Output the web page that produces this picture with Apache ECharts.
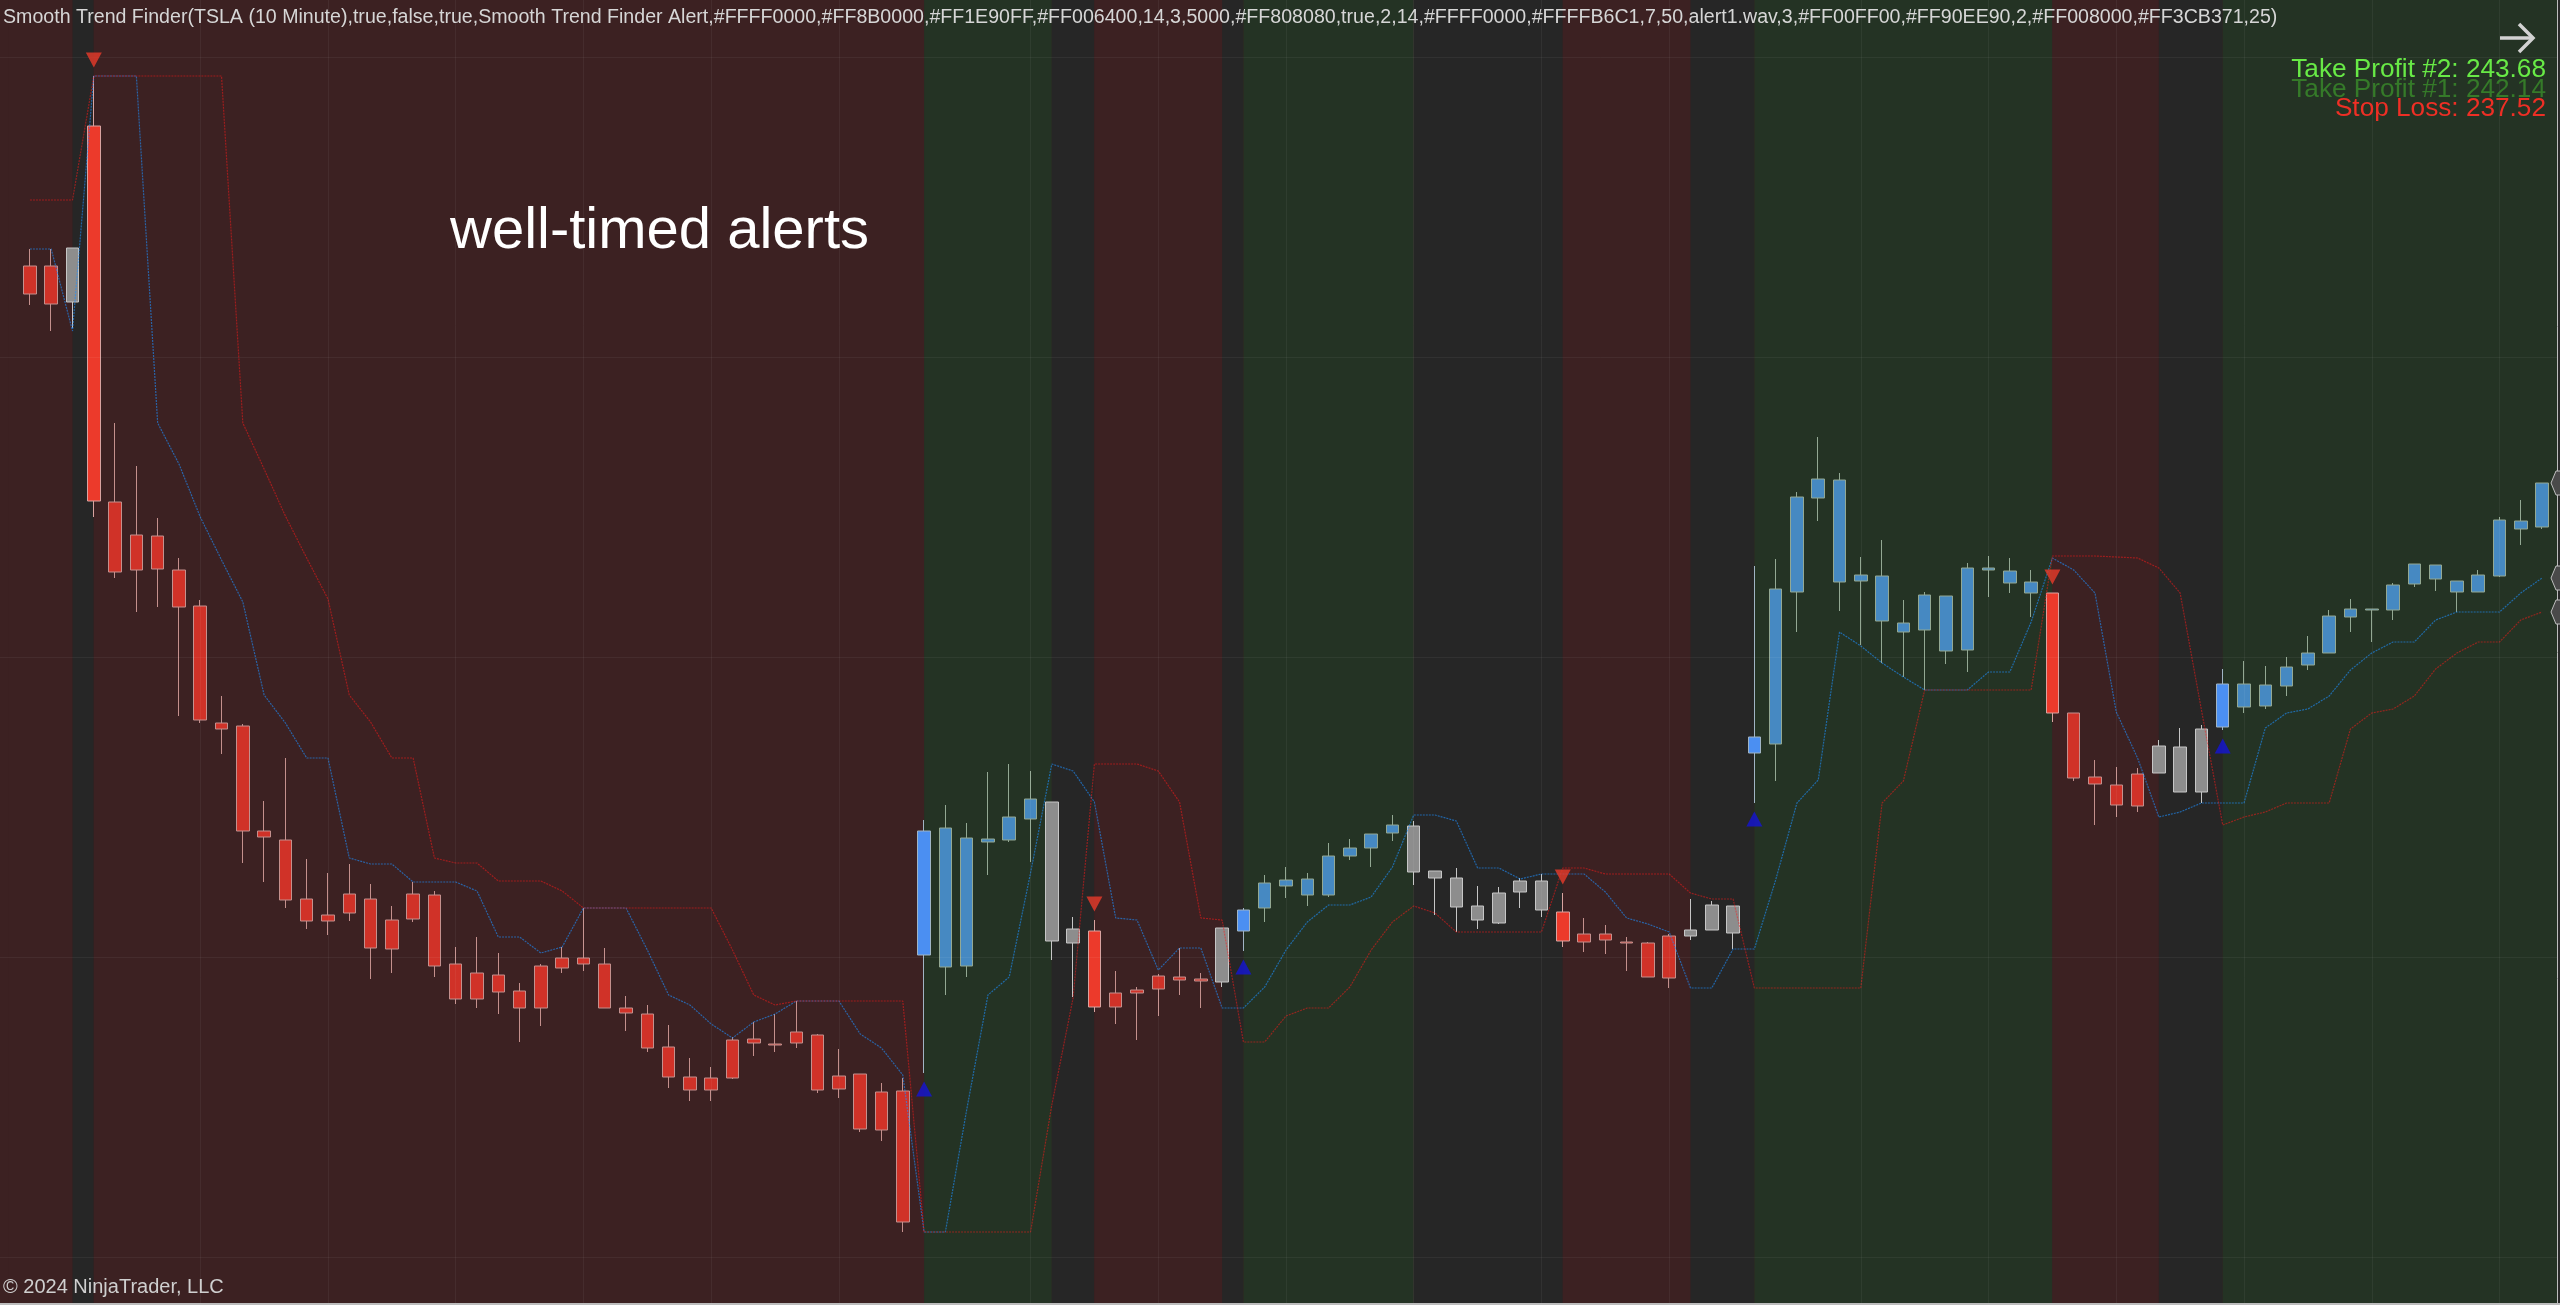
<!DOCTYPE html>
<html><head><meta charset="utf-8">
<script src="https://cdn.jsdelivr.net/npm/echarts@6/dist/echarts.min.js"></script>
<style>html,body{margin:0;padding:0;background:#3c2122;overflow:hidden}#c{width:2560px;height:1305px}</style>
</head><body><div id="c"></div><script>
// ---- data (TSLA 10 minute) ----
const opens = [247.91,247.91,247.55,249.31,245.55,245.22,245.21,244.87,244.51,243.34,
243.31,242.26,242.17,241.58,241.42,241.63,241.58,241.37,241.63,241.62,
240.93,240.84,240.82,240.66,240.91,240.99,240.99,240.93,240.49,240.43,
240.10,239.80,239.79,239.79,240.18,240.13,240.14,240.22,239.81,239.83,
239.27,239.66,241.02,242.29,240.91,242.15,242.17,242.38,242.55,241.14,
241.26,240.50,240.64,240.68,240.80,240.78,240.75,241.26,241.49,241.71,
241.78,241.62,242.01,242.09,242.24,242.31,241.86,241.79,241.51,241.34,
241.65,241.76,241.45,241.23,241.23,241.15,241.14,240.79,241.21,241.27,
241.51,243.04,243.13,244.65,245.59,245.77,244.76,244.81,244.34,244.27,
244.61,244.07,244.89,244.86,244.75,244.64,243.44,242.80,242.72,242.51,
242.84,243.10,242.65,243.30,243.73,243.51,243.71,243.92,244.04,244.40,
244.48,244.47,244.73,244.92,244.76,244.65,244.81,245.36,245.30];
const closes = [247.63,247.53,248.09,245.56,244.85,244.87,244.88,244.50,243.37,243.28,
242.26,242.20,241.57,241.36,241.36,241.44,241.09,241.08,241.38,240.91,
240.58,240.58,240.65,240.49,240.49,240.89,240.93,240.49,240.44,240.09,
239.80,239.67,239.67,240.17,240.14,240.12,240.25,239.67,239.68,239.28,
239.65,238.35,242.26,240.90,242.19,242.18,242.40,242.58,241.16,241.28,
240.50,240.64,240.67,240.81,240.77,240.76,241.29,241.47,241.74,241.77,
241.62,242.01,242.09,242.23,242.32,241.85,241.79,241.50,241.37,241.64,
241.76,241.47,241.16,241.15,241.17,241.14,240.80,241.21,241.27,241.52,
241.24,243.20,244.68,245.60,245.78,244.75,244.82,244.36,244.25,244.62,
244.06,244.89,244.87,244.74,244.64,243.44,242.79,242.73,242.52,242.83,
243.11,242.65,243.28,243.73,243.50,243.72,243.90,244.04,244.41,244.48,
244.47,244.72,244.93,244.78,244.65,244.82,245.37,245.28,245.74];
const lows = [247.52,247.26,247.29,245.40,244.79,244.45,244.50,243.41,243.34,243.03,
241.94,241.75,241.49,241.28,241.22,241.36,240.78,240.84,241.35,240.80,
240.53,240.49,240.43,240.15,240.31,240.84,240.86,240.49,240.26,240.05,
239.69,239.56,239.56,239.78,240.01,240.05,240.09,239.64,239.59,239.25,
239.16,238.25,239.84,240.62,240.80,241.82,242.15,241.95,240.97,240.60,
240.45,240.33,240.17,240.41,240.62,240.49,240.70,241.06,241.35,241.59,
241.51,241.60,241.97,241.90,242.16,241.72,241.42,241.25,241.28,241.33,
241.49,241.40,241.10,241.05,241.03,240.86,240.80,240.69,241.17,241.27,
241.08,242.54,242.76,244.25,245.36,244.46,244.12,243.94,243.80,243.67,
243.93,243.85,244.60,244.64,244.40,243.35,242.76,242.32,242.40,242.45,
242.84,242.65,242.54,243.27,243.44,243.48,243.61,243.87,244.04,244.25,
244.15,244.37,244.70,244.66,244.45,244.65,244.80,245.12,245.28];
const highs = [248.08,248.08,248.09,249.81,246.34,245.91,245.39,244.99,244.57,243.61,
243.33,242.56,242.99,241.98,241.84,241.93,241.73,241.51,241.75,241.66,
241.10,241.20,241.04,240.74,240.93,241.10,241.49,241.09,240.61,240.52,
240.32,239.99,239.90,240.20,240.35,240.43,240.56,240.23,240.08,239.83,
239.74,239.79,242.37,242.52,242.34,242.85,242.93,242.86,242.55,241.40,
241.37,240.86,240.70,240.83,241.09,240.84,241.29,241.49,241.82,241.90,
241.84,242.14,242.18,242.23,242.42,242.36,241.86,241.89,241.71,241.70,
241.79,241.83,241.64,241.39,241.32,241.20,241.15,241.23,241.58,241.56,
241.51,244.91,244.98,245.65,246.20,245.84,245.00,245.17,244.57,244.65,
244.61,244.94,245.01,244.99,244.87,244.64,243.44,242.97,242.90,242.89,
243.17,243.29,243.32,243.88,243.96,243.91,244.00,244.21,244.47,244.58,
244.48,244.74,244.93,244.92,244.76,244.87,245.40,245.57,245.74];
// trend state per bar: -1 down (red), 1 up (blue), 0 neutral (gray)
const trend = [-1,-1,0,-1,-1,-1,-1,-1,-1,-1,
-1,-1,-1,-1,-1,-1,-1,-1,-1,-1,
-1,-1,-1,-1,-1,-1,-1,-1,-1,-1,
-1,-1,-1,-1,-1,-1,-1,-1,-1,-1,
-1,-1,1,1,1,1,1,1,0,0,
-1,-1,-1,-1,-1,-1,0,1,1,1,
1,1,1,1,1,0,0,0,0,0,
0,0,-1,-1,-1,-1,-1,-1,0,0,
0,1,1,1,1,1,1,1,1,1,
1,1,1,1,1,-1,-1,-1,-1,-1,
0,0,0,1,1,1,1,1,1,1,
1,1,1,1,1,1,1,1,1];
const blueLine = [248.08,248.08,247.26,249.81,249.81,249.81,246.34,245.93,245.40,244.97,
244.55,243.62,243.34,242.99,242.99,241.99,241.93,241.93,241.75,241.75,
241.75,241.66,241.20,241.20,241.04,241.10,241.49,241.49,241.49,241.07,
240.62,240.52,240.33,240.19,240.35,240.43,240.56,240.56,240.56,240.23,
240.09,239.82,238.25,238.25,239.47,240.62,240.80,241.84,242.93,242.86,
242.55,241.39,241.37,240.87,241.09,241.09,240.49,240.49,240.70,241.07,
241.35,241.52,241.52,241.60,241.90,242.42,242.42,242.36,241.89,241.89,
241.78,241.83,241.83,241.83,241.65,241.39,241.33,241.25,240.69,240.69,
241.08,241.08,241.77,242.54,242.77,244.25,244.11,243.94,243.80,243.67,
243.67,243.67,243.85,243.85,244.35,244.99,244.87,244.64,243.45,242.99,
242.40,242.45,242.54,242.54,242.54,243.29,243.44,243.48,243.61,243.87,
244.04,244.15,244.15,244.37,244.45,244.45,244.45,244.64,244.79];
const redLine = [248.57,248.57,248.57,249.81,249.81,249.81,249.81,249.81,249.81,249.81,
246.34,245.88,245.41,244.99,244.58,243.62,243.35,242.99,242.99,241.99,
241.94,241.94,241.76,241.76,241.76,241.66,241.49,241.49,241.49,241.49,
241.49,241.49,241.49,241.07,240.62,240.52,240.56,240.56,240.56,240.56,
240.56,240.56,238.25,238.25,238.25,238.25,238.25,238.25,239.52,240.59,
242.93,242.93,242.93,242.86,242.55,241.39,241.37,240.15,240.15,240.41,
240.49,240.49,240.70,241.07,241.35,241.51,241.44,241.25,241.25,241.25,
241.25,241.25,241.89,241.89,241.83,241.83,241.83,241.83,241.64,241.58,
241.58,240.69,240.69,240.69,240.69,240.69,240.69,242.54,242.76,243.67,
243.67,243.67,243.67,243.67,243.67,245.01,245.01,245.01,245.00,244.99,
244.89,244.64,243.47,242.32,242.40,242.45,242.54,242.54,242.54,243.28,
243.44,243.48,243.61,243.88,244.04,244.15,244.15,244.37,244.45];
const sellSignals = [3, 50, 72, 95];
const buySignals = [42, 57, 81, 103];
const priceGridLines = [238, 241, 244, 247, 250];
const timeGridBars = [8,14,20,26,32,38,47,53,59,65,71,77,86,92,98,104,110,116];
const titleText = 'Smooth Trend Finder(TSLA (10 Minute),true,false,true,Smooth Trend Finder Alert,#FFFF0000,#FF8B0000,#FF1E90FF,#FF006400,14,3,5000,#FF808080,true,2,14,#FFFF0000,#FFFFB6C1,7,50,alert1.wav,3,#FF00FF00,#FF90EE90,2,#FF008000,#FF3CB371,25)';
const noteText = 'well-timed alerts';
const targetLabels = ['Take Profit #2', 'Take Profit #1', 'Stop Loss'];
const targetValues = [243.68, 242.14, 237.52];
const copyrightText = '\u00A9 2024 NinjaTrader, LLC';

// ---- build ----
const FONT = '"Liberation Sans", Arial, sans-serif';
const categories = ['L'].concat(opens.map((_, i) => 'b' + i), ['R']);
const BAND = { '-1': '#3c2122', '1': '#243324', '0': '#262626' };
const bands = [];
let runStart = 0;
for (let i = 1; i <= trend.length; i++) {
  if (i === trend.length || trend[i] !== trend[runStart]) {
    bands.push([
      { xAxis: runStart === 0 ? 'L' : 'b' + runStart, itemStyle: { color: BAND[trend[runStart]], opacity: 1 } },
      { xAxis: i === trend.length ? 'R' : 'b' + i }
    ]);
    runStart = i;
  }
}
function candleStyle(i) {
  const t = trend[i];
  const sig = sellSignals.includes(i) || buySignals.includes(i);
  let fill, border;
  if (t < 0) { fill = sig ? '#ec3a2b' : '#d03228'; border = sig ? '#d9a3a0' : '#c4908d'; }
  else if (t > 0) { fill = sig ? '#4b8ff2' : '#4689c2'; border = sig ? '#a0b4c4' : '#93a893'; }
  else { fill = '#8d8d8d'; border = '#c6c6c6'; }
  return { color: fill, color0: fill, borderColor: border, borderColor0: border, borderColorDoji: border, borderWidth: 1 };
}
const candleData = opens.map((o, i) => ({ value: [i + 1, o, closes[i], lows[i], highs[i]], itemStyle: candleStyle(i) }));

const chart = echarts.init(document.getElementById('c'), null, { renderer: 'canvas' });
const option = {
  animation: false,
  backgroundColor: '#3c2122',
  grid: { left: -2, top: 0, width: 2576, height: 1303, containLabel: false, outerBoundsMode: 'none', show: false },
  xAxis: { type: 'category', data: categories, boundaryGap: true, show: false },
  yAxis: { type: 'value', min: 237.54, max: 250.57, show: false, splitLine: { show: false } },
  series: [
    {
      type: 'line', data: [], z: 0, silent: true,
      markArea: { silent: true, data: bands, emphasis: { disabled: true } },
      markLine: {
        silent: true, symbol: ['none', 'none'], label: { show: false },
        lineStyle: { color: 'rgba(255,255,255,0.05)', width: 1, type: 'solid' },
        emphasis: { disabled: true },
        data: priceGridLines.map(v => ({ yAxis: v })).concat(timeGridBars.map(i => ({ xAxis: 'b' + i })))
      }
    },
    {
      type: 'candlestick', data: candleData, encode: { x: 0, y: [1, 2, 3, 4] },
      barWidth: 13, z: 3, silent: true
    },
    {
      type: 'line', data: blueLine.map((v, i) => [i + 1, v]), symbol: 'none', z: 4, silent: true,
      lineStyle: { color: '#1E90FF', width: 1.2, type: [2, 1], opacity: 0.6 }
    },
    {
      type: 'line', data: redLine.map((v, i) => [i + 1, v]), symbol: 'none', z: 4, silent: true,
      lineStyle: { color: '#ff1a1a', width: 1.2, type: [2, 1], opacity: 0.5 }
    },
    {
      type: 'scatter', data: sellSignals.map(i => [i + 1, highs[i]]), symbol: 'triangle', symbolRotate: 180,
      symbolSize: [16, 15], symbolOffset: [0, -16], itemStyle: { color: '#ea3b2b' }, z: 5, silent: true
    },
    {
      type: 'scatter', data: buySignals.map(i => [i + 1, lows[i]]), symbol: 'triangle',
      symbolSize: [16, 15], symbolOffset: [0, 16], itemStyle: { color: '#1414d6' }, z: 5, silent: true
    }
  ]
};
chart.setOption(option);

// decorations: texts, right price-axis edge markers
const last = opens.length - 1;
const markerVals = [closes[last], blueLine[last], redLine[last]];
const graphics = [
  { type: 'text', left: 3, top: 8, z: 100, style: { text: titleText, fill: '#d6d6d6', font: '19.6px ' + FONT } },
  { type: 'text', left: 450, top: 203, z: 100, style: { text: noteText, fill: '#ffffff', font: '58px ' + FONT } },
  { type: 'text', left: 3, top: 1277, z: 100, style: { text: copyrightText, fill: '#cfcfcf', font: '20px ' + FONT } },
  { type: 'polyline', z: 100, shape: { points: [[2500, 38], [2533, 38]] }, style: { stroke: '#d2d2d2', lineWidth: 3.5 } },
  { type: 'polyline', z: 100, shape: { points: [[2519, 24], [2533, 38], [2519, 52]] }, style: { stroke: '#d2d2d2', lineWidth: 3.5, fill: null } },
  { type: 'rect', z: 90, shape: { x: 2557, y: 0, width: 3, height: 1305 }, style: { fill: '#2a2a2a' } },
  { type: 'line', z: 91, shape: { x1: 2557.5, y1: 0, x2: 2557.5, y2: 1305 }, style: { stroke: '#bdbdbd', lineWidth: 1 } },
  { type: 'rect', z: 91, shape: { x: 0, y: 1303, width: 2560, height: 2 }, style: { fill: '#bdbdbd' } }
];
const tColors = ['#68ea46', '#357a29', '#ee2f25'];
targetLabels.forEach((lab, k) => {
  graphics.push({ type: 'text', z: 100 + k, style: { text: lab + ': ' + targetValues[k].toFixed(2), x: 2546, y: 83 + k * 19.5,
    fill: tColors[k], font: '26.2px ' + FONT, textAlign: 'right', textVerticalAlign: 'bottom' } });
});
markerVals.forEach(v => {
  const y = chart.convertToPixel({ yAxisIndex: 0 }, v);
  graphics.push({ type: 'polygon', z: 95, shape: { points: [[2551, y], [2556, y - 12], [2566, y - 12], [2566, y + 12], [2556, y + 12]] },
    style: { fill: '#4a4a4a', stroke: '#bdbdbd', lineWidth: 1 } });
});
chart.setOption({ graphic: graphics });
</script></body></html>
